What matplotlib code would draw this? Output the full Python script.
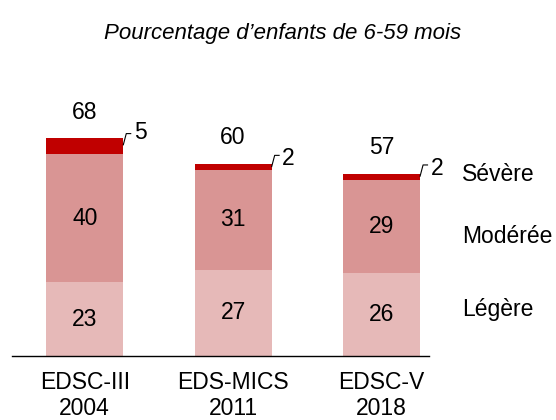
import matplotlib.pyplot as plt

plt.rcParams['font.family'] = ['Liberation Sans', 'DejaVu Sans']

categories = ["EDSC-III\n2004", "EDS-MICS\n2011", "EDSC-V\n2018"]
legere = [23, 27, 26]
moderee = [40, 31, 29]
severe = [5, 2, 2]
totals = [68, 60, 57]
series_names = ["Légère", "Modérée", "Sévère"]

c_legere = "#E6B9B8"
c_moderee = "#D99594"
c_severe = "#C00000"

W, H = 556, 420
fig = plt.figure(figsize=(W / 100, H / 100), dpi=100)
ax = fig.add_axes([12 / W, 64 / H, 417 / W, 316 / H])

x = list(range(len(categories)))
bw = 0.52
bottoms2 = legere
bottoms3 = [a + b for a, b in zip(legere, moderee)]

ax.bar(x, legere, bw, color=c_legere)
ax.bar(x, moderee, bw, bottom=bottoms2, color=c_moderee)
ax.bar(x, severe, bw, bottom=bottoms3, color=c_severe)

fs = 16.5
for i in x:
    ax.text(i, legere[i] / 2, str(legere[i]), ha="center", va="center", fontsize=fs)
    ax.text(i, legere[i] + moderee[i] / 2, str(moderee[i]), ha="center", va="center", fontsize=fs)
    ax.text(i, totals[i] + 8.2, str(totals[i]), ha="center", va="center", fontsize=fs)
    # small leader for the thin "Sévère" segment
    top = bottoms3[i] + severe[i]
    y0 = top - 0.4 * severe[i]
    y1 = y0 + 3.5
    xr = i + bw / 2
    ax.plot([xr, xr + 0.02, xr + 0.05], [y0, y1, y1], color="black", lw=0.8,
            clip_on=False)
    ax.text(xr + 0.07, top + 1.7, str(severe[i]), ha="left", va="center", fontsize=fs)

# series names at the right of the last bar
label_y = [14.4, 37.2, 56.6]
for name, yv in zip(series_names, label_y):
    ax.text(2.54, yv, name, ha="left", va="center", fontsize=fs, clip_on=False)

ax.set_xlim(-0.49, 2.32)
ax.set_ylim(0, 316 / 3.2)
ax.set_xticks(x)
ax.set_xticklabels(categories, fontsize=fs, linespacing=1.15)
ax.tick_params(axis="x", length=0, pad=11)
ax.set_yticks([])
for s in ["top", "right", "left"]:
    ax.spines[s].set_visible(False)
ax.spines["bottom"].set_linewidth(1.0)
ax.spines["bottom"].set_color("black")

fig.text(283 / W, 1 - 33 / H, "Pourcentage d’enfants de 6-59 mois",
         ha="center", va="center", fontsize=16, style="italic")

fig.savefig("out.png", dpi=100)
